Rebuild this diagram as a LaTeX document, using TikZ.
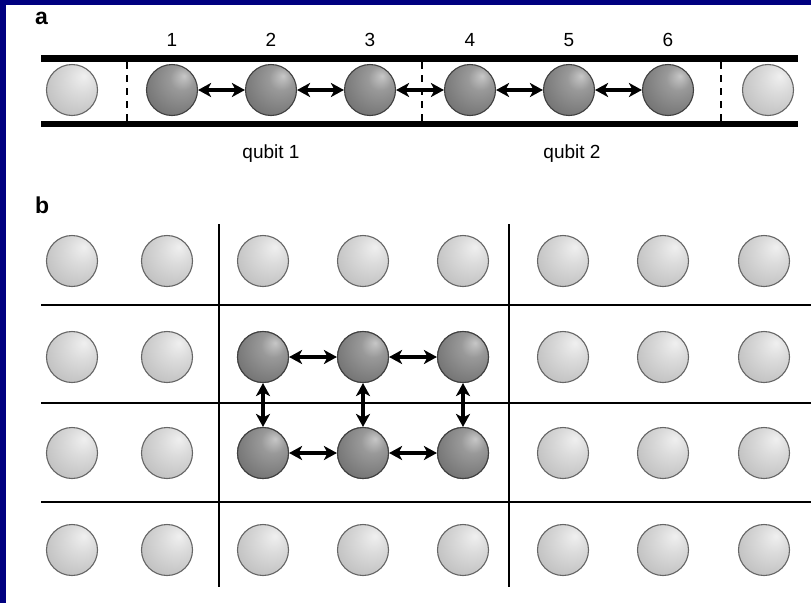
\documentclass[tikz,border=0pt]{standalone}
\usepackage{fontspec}
\setmainfont{Liberation Sans}
\usetikzlibrary{arrows.meta}

% Sphere shadings with the highlight in the upper right
\pgfdeclareradialshading{lightsphere}{\pgfqpoint{12bp}{14bp}}{%
  color(0bp)=(white!94!black); color(14bp)=(white!86!black);
  color(42bp)=(white!72!black); color(70bp)=(white!58!black)}
\pgfdeclareradialshading{darksphere}{\pgfqpoint{12bp}{14bp}}{%
  color(0bp)=(white!78!black); color(12bp)=(white!60!black);
  color(40bp)=(white!42!black); color(70bp)=(white!24!black)}

\definecolor{frameblue}{RGB}{0,0,128}

\tikzset{
  lball/.style={circle, minimum size=51pt, inner sep=0pt, shading=lightsphere,
    draw=black!60, line width=1.1pt},
  dball/.style={circle, minimum size=51pt, inner sep=0pt, shading=darksphere,
    draw=black!75, line width=1.1pt},
  link/.style={line width=3.2pt, >={Stealth[length=13pt,width=14pt,inset=3.5pt]}, <->},
  rail/.style={line width=6.5pt},
  gridline/.style={line width=2.8pt},
  cut/.style={line width=2.8pt, dash pattern=on 7pt off 6pt},
  num/.style={font=\fontsize{19}{22}\selectfont},
  panel/.style={font=\fontsize{23}{25}\selectfont\bfseries, anchor=north west, inner sep=0pt},
}

\begin{document}
\begin{tikzpicture}[x=1pt,y=-1pt]
  % frame
  \fill[frameblue] (0,0) rectangle (811,603);
  \fill[white] (6,5) rectangle (811,603);
  \useasboundingbox (0,0) rectangle (811,603);

  % ---------- panel a: linear chain ----------
  \node[panel] (la) at (35,12) {a};
  \draw[rail] (41,58.5) -- (798,58.5);
  \draw[rail] (41,124) -- (798,124);
  \draw[cut] (127,62) -- (127,121);
  \draw[cut] (422,62) -- (422,121);
  \draw[cut] (721,62) -- (721,121);

  \node[lball] (e0) at (72,90) {};
  \node[dball] (c1) at (172,90) {};
  \node[dball] (c2) at (271,90) {};
  \node[dball] (c3) at (370,90) {};
  \node[dball] (c4) at (470,90) {};
  \node[dball] (c5) at (569,90) {};
  \node[dball] (c6) at (668,90) {};
  \node[lball] (e7) at (768,90) {};

  \foreach \i in {1,...,6}
    \node[num] (n\i) at (c\i |- 0,40) {\i};

  \draw[link] (c1) -- (c2);
  \draw[link] (c2) -- (c3);
  \draw[link] (c3) -- (c4);
  \draw[link] (c4) -- (c5);
  \draw[link] (c5) -- (c6);

  \node[num] (q1) at (271,154) {qubit 1};
  \node[num] (q2) at (572,154) {qubit 2};

  % ---------- panel b: 2D array ----------
  \node[panel] (lb) at (35,197) {b};
  \draw[gridline] (41,305) -- (811,305);
  \draw[gridline] (41,403) -- (811,403);
  \draw[gridline] (41,502) -- (811,502);
  \draw[gridline] (219,224) -- (219,587);
  \draw[gridline] (509,224) -- (509,587);

  \foreach \c/\x in {1/72,2/167,3/263,4/363,5/463,6/563,7/663,8/764}
    \foreach \r/\y in {1/261,2/357,3/453,4/550}
      \node[lball] (g\r\c) at (\x,\y) {};

  \foreach \c/\x in {3/263,4/363,5/463}
    \foreach \r/\y in {2/357,3/453}
      \node[dball] (g\r\c) at (\x,\y) {};

  \draw[link] (g23) -- (g24);
  \draw[link] (g24) -- (g25);
  \draw[link] (g33) -- (g34);
  \draw[link] (g34) -- (g35);
  \draw[link] (g23) -- (g33);
  \draw[link] (g24) -- (g34);
  \draw[link] (g25) -- (g35);
\end{tikzpicture}
\end{document}
